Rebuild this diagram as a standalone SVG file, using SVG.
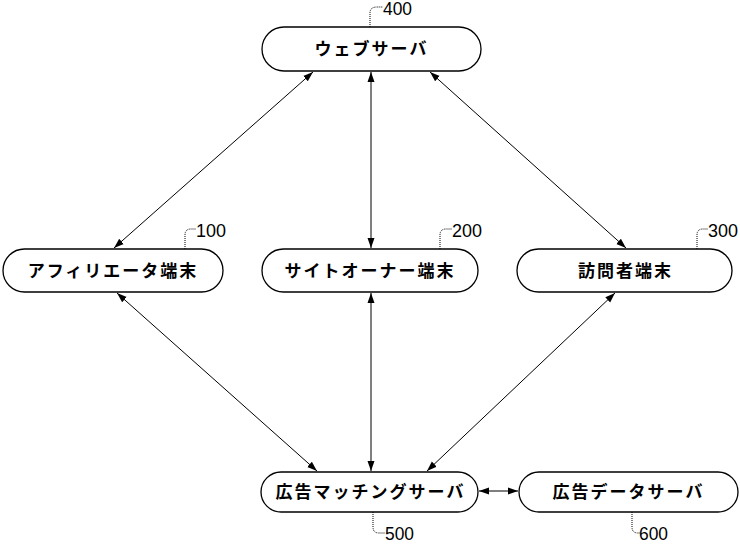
<svg xmlns="http://www.w3.org/2000/svg" width="740" height="544" viewBox="0 0 740 544">
<style>
.node rect{fill:#fff;stroke:#000;stroke-width:1.3}
.node text{font-family:"Noto Sans CJK JP",sans-serif;font-size:17px;font-weight:bold;letter-spacing:2px;text-anchor:middle;fill:#000}
.ref text{font-family:"Liberation Sans",sans-serif;font-size:18px;fill:#000}
.ref path{fill:none;stroke:#000;stroke-width:1;stroke-dasharray:1 1}
#connectors line{stroke:#000;stroke-width:1;marker-start:url(#ah);marker-end:url(#ah)}
</style>
<defs>
<marker id="ah" viewBox="0 0 10 10" refX="10" refY="5" markerWidth="10" markerHeight="10" markerUnits="userSpaceOnUse" orient="auto-start-reverse">
<path d="M0,1.5 L10,5 L0,8.5 Z" fill="#000"/>
</marker>
</defs>
<rect width="740" height="544" fill="#fff"/>
<g id="connectors">
<line x1="313" y1="72" x2="114" y2="248"/>
<line x1="371" y1="72" x2="371" y2="248"/>
<line x1="430" y1="72" x2="626" y2="248"/>
<line x1="117" y1="293" x2="317" y2="471"/>
<line x1="371" y1="293" x2="371" y2="471"/>
<line x1="615" y1="293" x2="427" y2="471"/>
<line x1="479" y1="491" x2="518" y2="491"/>
</g>
<g id="n400" class="node"><rect x="262" y="27" width="219" height="44" rx="22"/><text x="371.5" y="55">ウェブサーバ</text></g>
<g id="n100" class="node"><rect x="3" y="249" width="220" height="43" rx="21.5"/><text x="113" y="277">アフィリエータ端末</text></g>
<g id="n200" class="node"><rect x="262" y="249" width="216" height="43" rx="21.5"/><text x="370" y="277">サイトオーナー端末</text></g>
<g id="n300" class="node"><rect x="517" y="249" width="215" height="43" rx="21.5"/><text x="625.5" y="277">訪問者端末</text></g>
<g id="n500" class="node"><rect x="261" y="472" width="217" height="40" rx="20"/><text x="370.5" y="498">広告マッチングサーバ</text></g>
<g id="n600" class="node"><rect x="519" y="472" width="219" height="40" rx="20"/><text x="628.5" y="498">広告データサーバ</text></g>
<g class="ref">
<path d="M370,27 L370,13 Q370,7 377,7 L383,7"/><text x="383" y="15" textLength="29" lengthAdjust="spacingAndGlyphs">400</text>
<path d="M185,249 L185,235 Q185,229 191,229 L196,229"/><text x="196" y="237" textLength="30" lengthAdjust="spacingAndGlyphs">100</text>
<path d="M440,249 L440,235 Q440,229 446,229 L452,229"/><text x="452" y="237" textLength="30" lengthAdjust="spacingAndGlyphs">200</text>
<path d="M697,249 L697,235 Q697,229 703,229 L708,229"/><text x="708" y="237" textLength="30" lengthAdjust="spacingAndGlyphs">300</text>
<path d="M373,512 L373,527 Q373,533 379,533 L385,533"/><text x="385" y="540" font-size="17" textLength="29" lengthAdjust="spacingAndGlyphs">500</text>
<path d="M632,512 L632,527 Q632,533 638,533 L640,533"/><text x="639" y="540" font-size="17" textLength="29" lengthAdjust="spacingAndGlyphs">600</text>
</g>
</svg>
